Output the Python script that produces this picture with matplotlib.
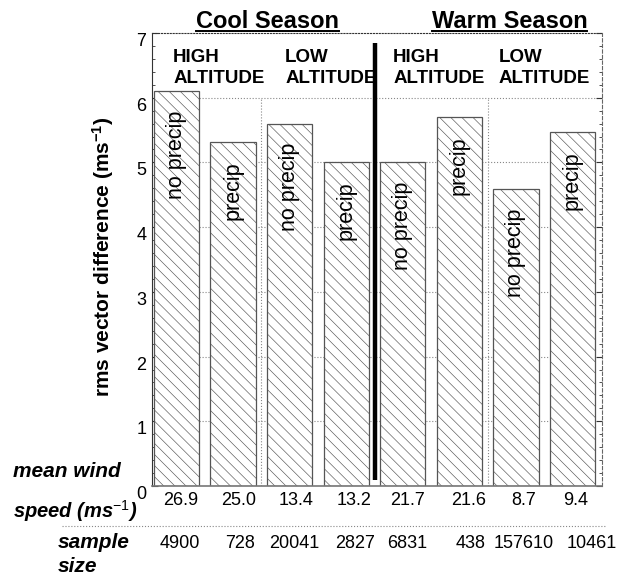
import matplotlib
matplotlib.use("Agg")
import matplotlib.pyplot as plt
import matplotlib.transforms as mtransforms
from matplotlib.lines import Line2D
from matplotlib.ticker import MultipleLocator

plt.rcParams["font.family"] = ["Liberation Sans", "DejaVu Sans"]
plt.rcParams["mathtext.fontset"] = "custom"
plt.rcParams["mathtext.rm"] = "Liberation Sans"
plt.rcParams["mathtext.bf"] = "Liberation Sans:bold"
plt.rcParams["mathtext.it"] = "Liberation Sans:italic:bold"
plt.rcParams["hatch.linewidth"] = 0.45

# ---- data -------------------------------------------------------------
seasons = ["Cool Season", "Warm Season"]
altitude_groups = ["HIGH", "LOW", "HIGH", "LOW"]
precip_labels = ["no precip", "precip"] * 4
rms_diff = [6.10, 5.31, 5.60, 5.00, 5.00, 5.70, 4.59, 5.47]
mean_wind = [26.9, 25.0, 13.4, 13.2, 21.7, 21.6, 8.7, 9.4]
sample_size = [4900, 728, 20041, 2827, 6831, 438, 157610, 10461]
y_ticks = [0, 1, 2, 3, 4, 5, 6, 7]

# ---- figure -----------------------------------------------------------
W, H = 629, 577
fig = plt.figure(figsize=(W / 100, H / 100), dpi=100)
ax = fig.add_axes([152 / W, 1 - 486 / H, 450 / W, 453 / H])

xpos = list(range(len(rms_diff)))
ax.bar(xpos, rms_diff, width=0.8, color="white", edgecolor="#555555",
       hatch="\\\\\\", linewidth=0.9, zorder=2)

ax.set_xlim(-0.433, 7.521)
ax.set_ylim(0, 7)
px = 1 / 56.57  # one pixel in x data units

# dotted guide lines
for yv in y_ticks[1:-1]:
    ax.axhline(yv, color="#888888", ls=":", lw=0.8, zorder=1)
for xv in (1.5, 5.5):
    ax.plot([xv, xv], [0, 6], color="#888888", ls=":", lw=0.8, zorder=1)

# heavy separator between the two seasons
ax.plot([3.5, 3.5], [0.1, 6.85], color="black", lw=3.2,
        solid_capstyle="butt", zorder=3)

# axes styling
ax.set_xticks([])
ax.set_yticks(y_ticks)
ax.set_yticklabels([str(t) for t in y_ticks], va="top")
ax.yaxis.set_minor_locator(MultipleLocator(0.2))
ax.tick_params(axis="y", which="both", direction="in", left=True, right=True,
               labelsize=13, pad=4, color="#333333")
ax.tick_params(axis="y", which="major", length=4.5, width=0.8)
ax.tick_params(axis="y", which="minor", length=2.2, width=0.6)
ax.spines["top"].set_linestyle(":")
ax.spines["top"].set_color("#333333")
ax.spines["right"].set_linestyle((0, (3, 2)))
ax.spines["right"].set_color("#666666")
ax.spines["left"].set_color("#333333")
ax.spines["bottom"].set_color("#777777")
ax.spines["bottom"].set_linewidth(1.2)

# precipitation labels inside the bars
for i, (h, lab) in enumerate(zip(rms_diff, precip_labels)):
    ax.text(i, h - 0.3, lab, rotation=90, ha="center", va="top",
            fontsize=15.5, zorder=4)

# altitude group headers
group_x = [-0.06, 1.92, 3.83, 5.70]
for gx, name in zip(group_x, altitude_groups):
    ax.text(gx, 6.55, name, ha="left", va="baseline", fontsize=13.5,
            fontweight="bold", zorder=4)
    ax.text(gx, 6.225, "ALTITUDE", ha="left", va="baseline", fontsize=13.5,
            fontweight="bold", zorder=4)

# season titles (underlined)
title_x = [267.5 / W, 509.5 / W]
title_y = 1 - 28 / H
titles = []
for tx, name in zip(title_x, seasons):
    titles.append(fig.text(tx, title_y, name, ha="center", va="baseline",
                           fontsize=17, fontweight="bold"))

# y-axis label
fig.text(103 / W, 1 - 256.5 / H, r"rms vector difference (ms$^{\mathbf{-1}}$)",
         rotation=90, ha="center", va="center", fontsize=15, fontweight="bold")

# table rows below the bars
blend = mtransforms.blended_transform_factory(ax.transData, fig.transFigure)
wind_nudge = [4.5, 6, 6, 7.5, 4.5, 9.5, 7.5, 3.5]
size_nudge = [3.5, 7, 5, 8.5, 4.5, 11.5, 7.5, 19.5]
for i, (w, n) in enumerate(zip(mean_wind, sample_size)):
    ax.text(i + wind_nudge[i] * px, 1 - 505 / H, f"{w:.1f}", transform=blend,
            ha="center", va="baseline", fontsize=13, clip_on=False)
    ax.text(i + size_nudge[i] * px, 1 - 548 / H, f"{n}", transform=blend,
            ha="center", va="baseline", fontsize=13, clip_on=False)

row_kw = dict(fontsize=15, fontweight="bold", fontstyle="italic",
              ha="left", va="baseline")
fig.text(13 / W, 1 - 477 / H, "mean wind", **row_kw)
fig.text(13 / W, 1 - 518 / H, r"speed (ms$^{\mathit{-1}}$)",
         **{**row_kw, "fontsize": 14.5})
fig.text(58 / W, 1 - 548 / H, "sample", **row_kw)
fig.text(58 / W, 1 - 572 / H, "size", **row_kw)

fig.add_artist(Line2D([62 / W, 605 / W], [1 - 526 / H, 1 - 526 / H],
                      transform=fig.transFigure, color="#888888", ls=":",
                      lw=0.8))

# underline the season titles
fig.canvas.draw()
renderer = fig.canvas.get_renderer()
for t in titles:
    bb = t.get_window_extent(renderer)
    yline = 1 - 30.5 / H
    fig.add_artist(Line2D([bb.x0 / W, bb.x1 / W], [yline, yline],
                          transform=fig.transFigure, color="black", lw=1.4))

fig.savefig("out.png", dpi=100)
